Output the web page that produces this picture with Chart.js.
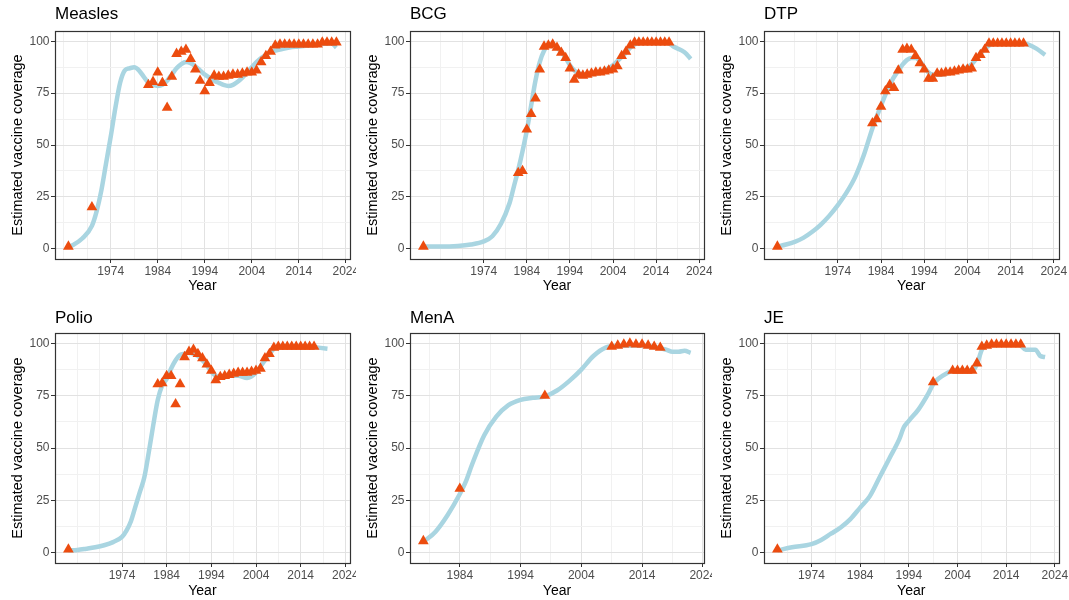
<!DOCTYPE html>
<html>
<head>
<meta charset="utf-8">
<title>Estimated vaccine coverage</title>
<script src="https://cdn.jsdelivr.net/npm/chart.js@4.4.1/dist/chart.umd.min.js"></script>
<style>
  html, body { margin: 0; padding: 0; background: #fff; }
  #wrap { position: relative; width: 1069px; height: 600px; overflow: hidden; }
  .panel { position: absolute; }
  .panel canvas { display: block; }
</style>
</head>
<body>
<div id="wrap">
  <div class="panel" style="left:0;top:0"><canvas id="c0" width="356" height="300"></canvas></div>
  <div class="panel" style="left:356px;top:0"><canvas id="c1" width="356" height="300"></canvas></div>
  <div class="panel" style="left:712px;top:0"><canvas id="c2" width="357" height="300"></canvas></div>
  <div class="panel" style="left:0;top:300px"><canvas id="c3" width="356" height="300"></canvas></div>
  <div class="panel" style="left:356px;top:300px"><canvas id="c4" width="356" height="300"></canvas></div>
  <div class="panel" style="left:712px;top:300px"><canvas id="c5" width="357" height="300"></canvas></div>
</div>
<script>
const vaccines = ['Measles', 'BCG', 'DTP', 'Polio', 'MenA', 'JE'];
const yearTicks = [1974, 1984, 1994, 2004, 2014, 2024];
const coverageTicks = [0, 25, 50, 75, 100];
const yearMin = [1962.15, 1956.9, 1956.9, 1959, 1975.8, 1964.25];
const yearMax = [2024.85, 2025.1, 2025.1, 2025, 2024.2, 2024.75];

// reported coverage (triangles)
const measlesYears = [1965, 1970, 1982, 1983, 1984, 1985, 1986, 1987, 1988, 1989, 1990, 1991, 1992, 1993, 1994, 1995, 1996, 1997, 1998, 1999, 2000, 2001, 2002, 2003, 2004, 2005, 2006, 2007, 2008, 2009, 2010, 2011, 2012, 2013, 2014, 2015, 2016, 2017, 2018, 2019, 2020, 2021, 2022];
const measlesReported = [1, 20, 79, 80.5, 85, 80, 68, 83, 94, 95, 96, 91.5, 86.5, 81, 76, 80, 83.5, 83, 83, 83.5, 84, 84, 84.5, 85, 85, 86, 90, 93, 95, 98, 98.5, 98.5, 98.5, 98.5, 98.5, 98.5, 98.5, 98.5, 98.5, 99.5, 99.5, 99.5, 99.5];
const bcgYears = [1960, 1982, 1983, 1984, 1985, 1986, 1987, 1988, 1989, 1990, 1991, 1992, 1993, 1994, 1995, 1996, 1997, 1998, 1999, 2000, 2001, 2002, 2003, 2004, 2005, 2006, 2007, 2008, 2009, 2010, 2011, 2012, 2013, 2014, 2015, 2016, 2017];
const bcgReported = [1, 36.5, 37.5, 57.5, 65, 72.5, 86.5, 97.5, 98, 98.5, 97, 94.5, 92, 87, 81.5, 84, 83.5, 84, 84.5, 85, 85, 85.5, 86, 86.5, 88, 93, 95, 98, 99.5, 99.5, 99.5, 99.5, 99.5, 99.5, 99.5, 99.5, 99.5];
const dtpYears = [1960, 1982, 1983, 1984, 1985, 1986, 1987, 1988, 1989, 1990, 1991, 1992, 1993, 1994, 1995, 1996, 1997, 1998, 1999, 2000, 2001, 2002, 2003, 2004, 2005, 2006, 2007, 2008, 2009, 2010, 2011, 2012, 2013, 2014, 2015, 2016, 2017];
const dtpReported = [1, 60.5, 62.5, 68.5, 76, 79, 77.5, 86, 96, 96.5, 96, 93, 89.5, 86.5, 82, 82, 84.5, 84.5, 85, 85, 85.5, 86, 86.5, 86.5, 87, 92, 93.5, 96, 99, 99, 99, 99, 99, 99, 99, 99, 99];
const polioYears = [1962, 1982, 1983, 1984, 1985, 1986, 1987, 1988, 1989, 1990, 1991, 1992, 1993, 1994, 1995, 1996, 1997, 1998, 1999, 2000, 2001, 2002, 2003, 2004, 2005, 2006, 2007, 2008, 2009, 2010, 2011, 2012, 2013, 2014, 2015, 2016, 2017];
const polioReported = [1.5, 80.5, 81, 84.5, 84.5, 71, 80.5, 93.5, 96, 97, 95, 93, 90, 87, 82.5, 84, 84.5, 85, 85.5, 86, 86, 86, 86.5, 87, 88, 93, 95, 98, 98.5, 98.5, 98.5, 98.5, 98.5, 98.5, 98.5, 98.5, 98.5];
const menaYears = [1978, 1984, 1998, 2009, 2010, 2011, 2012, 2013, 2014, 2015, 2016, 2017];
const menaReported = [5.5, 30.5, 75, 98.5, 99, 99.5, 100, 99.5, 99.5, 99, 98.5, 98];
const jeYears = [1967, 1999, 2003, 2004, 2005, 2006, 2007, 2008, 2009, 2010, 2011, 2012, 2013, 2014, 2015, 2016, 2017];
const jeReported = [1.5, 81.5, 87, 87, 87, 87, 87, 90.5, 98.5, 99, 99.5, 99.5, 99.5, 99.5, 99.5, 99.5, 99.5];

// estimated coverage (line)
const measlesLineYears = [1965, 1966, 1968, 1970, 1971, 1972, 1973, 1974, 1975, 1976, 1977, 1978, 1979, 1980, 1981, 1982, 1983, 1984, 1985, 1986, 1987, 1988, 1989, 1990, 1991, 1992, 1993, 1994, 1995, 1996, 1997, 1998, 1999, 2000, 2001, 2002, 2003, 2004, 2005, 2006, 2007, 2008, 2010, 2012, 2014, 2016, 2018, 2020, 2021, 2022];
const measlesLine = [1, 1.8, 5, 11, 18, 28, 41, 54, 68, 80, 86, 87, 87.5, 86, 83, 80, 79, 78.5, 79, 81, 84, 87, 89, 90, 89.5, 88, 86, 84, 82.5, 81, 80, 79, 78.5, 79, 80.5, 82.5, 85, 87.5, 90, 92, 93.5, 95, 96, 97, 97.5, 98, 98.5, 99, 99, 97];
const bcgLineYears = [1960, 1964, 1968, 1971, 1974, 1976, 1978, 1980, 1981, 1982, 1983, 1984, 1985, 1986, 1987, 1988, 1989, 1990, 1991, 1992, 1993, 1994, 1995, 1996, 1998, 2000, 2002, 2004, 2005, 2006, 2007, 2008, 2009, 2010, 2012, 2016, 2017, 2018, 2020, 2021, 2022];
const bcgLine = [1, 1, 1.3, 2, 3.5, 6, 12, 22, 30, 38, 47, 57, 69, 81, 90, 95.5, 98, 98, 97, 95, 92, 88.5, 86, 84.5, 84, 84.5, 86, 88.5, 90.5, 92.5, 94.5, 97, 98.5, 99.3, 99.5, 99.5, 99, 97.5, 95.5, 94, 91.5];
const dtpLineYears = [1960, 1962, 1964, 1966, 1968, 1970, 1972, 1974, 1976, 1978, 1980, 1982, 1984, 1986, 1988, 1990, 1991, 1992, 1993, 1994, 1995, 1996, 1998, 2000, 2002, 2004, 2005, 2006, 2007, 2008, 2009, 2010, 2017, 2018, 2020, 2022];
const dtpLine = [1, 2, 3.3, 5.2, 8, 11.5, 15.8, 21, 27, 34.5, 45, 58, 69, 79, 86, 91, 92, 92, 90.5, 87.5, 85, 84, 84, 85, 86, 87.5, 89, 91.5, 94, 96.5, 98, 99, 99, 98.5, 96.5, 93.5];
const polioLineYears = [1962, 1964, 1966, 1968, 1970, 1972, 1974, 1975, 1976, 1977, 1978, 1979, 1980, 1981, 1982, 1983, 1984, 1985, 1986, 1987, 1988, 1989, 1990, 1991, 1992, 1993, 1994, 1995, 1996, 1998, 2000, 2002, 2004, 2005, 2006, 2007, 2008, 2009, 2016, 2018, 2020];
const polioLine = [1, 1.2, 1.8, 2.5, 3.5, 5, 7.5, 10.5, 15, 22, 29, 36, 48, 61, 73, 80, 83, 88, 92, 94.5, 95, 95.5, 95, 94, 92, 89.5, 86.5, 84.5, 84, 84.5, 84.5, 83.5, 86, 89, 92, 95, 97.5, 98.5, 98.5, 98, 97.5];
const menaLineYears = [1978, 1980, 1982, 1984, 1985, 1986, 1988, 1990, 1992, 1994, 1996, 1998, 2000, 2002, 2004, 2006, 2008, 2010, 2013, 2016, 2018, 2019, 2020, 2021, 2022];
const menaLine = [5, 10, 18, 28, 34, 42, 56, 65, 70.5, 73, 74, 74.7, 77.5, 82, 87.5, 94, 98, 98.8, 99, 98.3, 97, 96, 96, 96.5, 95.5];
const jeLineYears = [1967, 1970, 1974, 1976, 1978, 1980, 1982, 1984, 1986, 1988, 1990, 1992, 1993, 1994, 1996, 1998, 1999, 2000, 2002, 2003, 2007, 2008, 2009, 2010, 2016, 2017, 2018, 2020, 2021, 2022];
const jeLine = [1, 2.5, 4, 6, 9, 12, 16, 21.5, 27, 36, 45, 54, 60, 63, 68.5, 76, 80.5, 83, 86, 87, 87, 90, 97, 99, 99.5, 99, 97, 97, 94, 93.5];

const reportedYears = [measlesYears, bcgYears, dtpYears, polioYears, menaYears, jeYears];
const reportedValues = [measlesReported, bcgReported, dtpReported, polioReported, menaReported, jeReported];
const lineYears = [measlesLineYears, bcgLineYears, dtpLineYears, polioLineYears, menaLineYears, jeLineYears];
const lineValues = [measlesLine, bcgLine, dtpLine, polioLine, menaLine, jeLine];

const FONT = '"Liberation Sans", Arial, Helvetica, sans-serif';
Chart.defaults.font.family = FONT;

// panel geometry (canvas relative)
const cols = [
  { left: 55, right: 350, width: 356 },
  { left: 54, right: 348, width: 356 },
  { left: 52, right: 346.5, width: 357 }
];
const rows = [
  { top: 31, bottom: 259, titleTop: 4.5, yearPad: 5 },
  { top: 33, bottom: 263, titleTop: 8, yearPad: 0 }
];

function withMinor(majors, lo, hi) {
  const step = majors[1] - majors[0];
  const vals = [majors[0] - step, majors[0] - step / 2];
  majors.forEach(m => {
    vals.push(m);
    vals.push(m + step / 2);
  });
  return vals.filter(v => v >= lo && v <= hi);
}

const panelBorder = {
  id: 'panelBorder',
  afterDraw(chart) {
    const { ctx, chartArea: a } = chart;
    ctx.save();
    ctx.strokeStyle = '#333333';
    ctx.lineWidth = 1.2;
    ctx.strokeRect(Math.round(a.left) + 0.5, Math.round(a.top) + 0.5,
      Math.round(a.right - a.left), Math.round(a.bottom - a.top));
    ctx.restore();
  }
};

function toPoints(xs, ys) {
  return xs.map((x, i) => ({ x: x, y: ys[i] }));
}

vaccines.forEach((name, i) => {
  const col = cols[i % 3];
  const row = rows[Math.floor(i / 3)];
  const xVals = withMinor(yearTicks, yearMin[i], yearMax[i]);
  const yVals = withMinor(coverageTicks, -5, 105);
  const isMajorX = c => c.tick && yearTicks.includes(c.tick.value);
  const isMajorY = c => c.tick && coverageTicks.includes(c.tick.value);

  new Chart(document.getElementById('c' + i), {
    type: 'line',
    data: {
      datasets: [
        {
          label: 'Reported',
          data: toPoints(reportedYears[i], reportedValues[i]),
          showLine: false,
          pointStyle: 'triangle',
          pointRadius: 6.2,
          pointBackgroundColor: '#ec4c0f',
          pointBorderWidth: 0,
          order: 0
        },
        {
          label: 'Estimated',
          data: toPoints(lineYears[i], lineValues[i]),
          borderColor: '#a9d5e1',
          borderWidth: 4.5,
          pointRadius: 0,
          cubicInterpolationMode: 'monotone',
          fill: false,
          order: 1
        }
      ]
    },
    options: {
      responsive: false,
      animation: false,
      events: [],
      layout: { padding: { left: col.left - 46, right: col.width - col.right, top: 0, bottom: 0 } },
      plugins: {
        legend: { display: false },
        tooltip: { enabled: false },
        title: {
          display: true,
          text: name,
          align: 'start',
          fullSize: false,
          color: '#000',
          font: { size: 17, weight: 'normal' },
          padding: { top: row.titleTop, bottom: row.top - row.titleTop - 20.4 }
        }
      },
      scales: {
        x: {
          type: 'linear',
          min: yearMin[i],
          max: yearMax[i],
          afterBuildTicks: s => { s.ticks = xVals.map(v => ({ value: v })); },
          afterFit: s => { s.height = 300 - row.bottom; s.paddingLeft = 0; s.paddingRight = 0; },
          ticks: {
            autoSkip: false,
            maxRotation: 0,
            padding: 1.5,
            color: '#4d4d4d',
            font: { size: 12 },
            callback: v => yearTicks.includes(v) ? String(v) : ''
          },
          grid: {
            color: c => isMajorX(c) ? '#e2e2e2' : '#f1f1f1',
            lineWidth: 1,
            tickLength: 4,
            tickColor: c => isMajorX(c) ? '#333333' : 'rgba(0,0,0,0)'
          },
          border: { display: false },
          title: {
            display: true,
            text: 'Year',
            color: '#000',
            font: { size: 14 },
            padding: { top: 0, bottom: row.yearPad }
          }
        },
        y: {
          type: 'linear',
          min: -5,
          max: 105,
          afterBuildTicks: s => { s.ticks = yVals.map(v => ({ value: v })); },
          afterFit: s => { s.width = 46; s.paddingTop = 0; s.paddingBottom = 0; },
          ticks: {
            autoSkip: false,
            padding: 1.5,
            color: '#4d4d4d',
            font: { size: 12 },
            callback: v => coverageTicks.includes(v) ? String(v) : ''
          },
          grid: {
            color: c => isMajorY(c) ? '#e2e2e2' : '#f1f1f1',
            lineWidth: 1,
            tickLength: 4,
            tickColor: c => isMajorY(c) ? '#333333' : 'rgba(0,0,0,0)'
          },
          border: { display: false },
          title: {
            display: true,
            text: 'Estimated vaccine coverage',
            color: '#000',
            font: { size: 14.5 },
            padding: { top: 0, bottom: 0 }
          }
        }
      }
    },
    plugins: [panelBorder]
  });
});
</script>
</body>
</html>
